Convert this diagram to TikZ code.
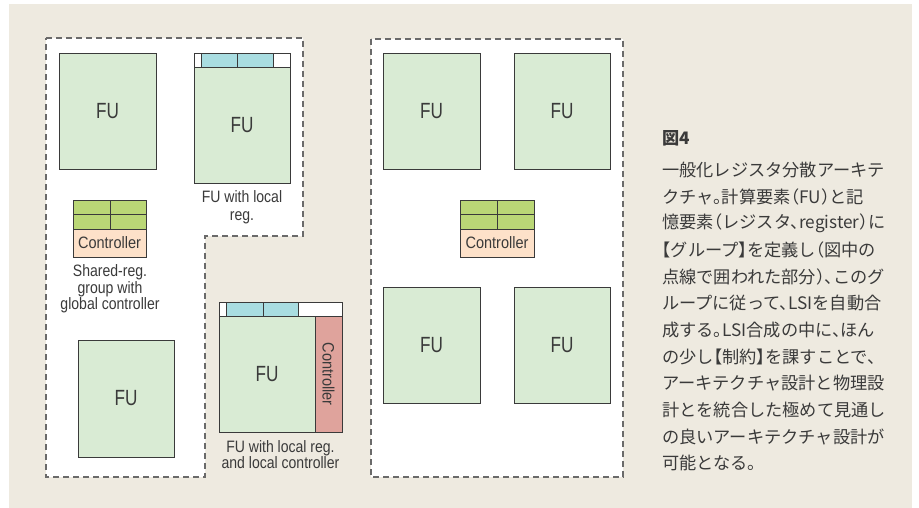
\documentclass[tikz,border=0pt]{standalone}
\usepackage{fontspec}
\setmainfont{Liberation Sans}[FakeStretch=0.85]
\newfontfamily\fufont{Liberation Sans}[FakeStretch=0.78]
\newfontfamily\ctlfont{Liberation Sans}[FakeStretch=0.88]
\newfontfamily\jp{Noto Sans CJK JP}[RawFeature=+halt]
\XeTeXlinebreaklocale "ja"
\XeTeXlinebreakskip=0pt plus 3pt
\definecolor{bgbeige}{HTML}{EEEAE0}
\definecolor{fugreen}{HTML}{D9EBD4}
\definecolor{regcyan}{HTML}{A9DDE1}
\definecolor{reggreen}{HTML}{BAD776}
\definecolor{ctlpeach}{HTML}{FDE1C9}
\definecolor{ctlpink}{HTML}{DFA39C}
\definecolor{ink}{HTML}{3A3A3A}
\definecolor{dashgray}{HTML}{6A6A6A}
\newcommand{\jline}[1]{\makebox[225pt][s]{#1}}
\tikzset{
  box/.style={draw=ink, line width=0.9pt, inner sep=0pt, outer sep=0pt, text=ink},
  fubox/.style={box, fill=fugreen, font=\fufont\fontsize{22}{24}\selectfont},
  cell/.style={box, fill=regcyan},
  blank/.style={box, fill=white},
  gcell/.style={box, fill=reggreen},
  ctl/.style={box, fill=ctlpeach, font=\ctlfont\fontsize{16.5}{18}\selectfont},
  ctlv/.style={box, fill=ctlpink, font=\ctlfont\fontsize{16.5}{18}\selectfont},
  group/.style={draw=dashgray, line width=1.1pt, dash pattern=on 6pt off 4pt, fill=white},
  lab/.style={text=ink, font=\fontsize{16.5}{16.5}\selectfont, align=center, inner sep=0pt},
  jtxt/.style={text=ink, anchor=west, inner sep=0pt, font=\jp\fontsize{17.2}{20}\selectfont},
}
\begin{document}
\begin{tikzpicture}[x=1pt,y=-1pt]
\useasboundingbox (0,0) rectangle (919,508);
\fill[bgbeige] (9,4) rectangle (912,508);

% left L-shaped group
\draw[group] (46,38) -- (303,38) -- (303,236) -- (205,236) -- (205,477) -- (46,477) -- cycle;
% right group
\draw[group] (371,39) rectangle (623,477);

% FU top-left
\node[fubox, minimum width=97pt, minimum height=116pt] (fu1) at (107.5,111) {FU};

% FU with local reg
\node[blank, minimum width=7pt, minimum height=14pt] (r2a) at (197.5,60) {};
\node[cell, minimum width=36pt, minimum height=14pt] (r2b) at (219,60) {};
\node[cell, minimum width=36pt, minimum height=14pt] (r2c) at (255,60) {};
\node[blank, minimum width=17pt, minimum height=14pt] (r2d) at (281.5,60) {};
\node[fubox, minimum width=96pt, minimum height=116pt] (fu2) at (242,125) {FU};
\node[lab] (lab2) at (242,207.5) {FU with local\\[1.5pt]reg.};

% shared reg group left
\node[gcell, minimum width=37pt, minimum height=14.5pt] (g1) at (91.5,207.25) {};
\node[gcell, minimum width=36pt, minimum height=14.5pt] (g2) at (128,207.25) {};
\node[gcell, minimum width=37pt, minimum height=14.5pt] (g3) at (91.5,221.75) {};
\node[gcell, minimum width=36pt, minimum height=14.5pt] (g4) at (128,221.75) {};
\node[ctl, minimum width=73pt, minimum height=28pt] (c1) at (109.5,243) {Controller};
\node[lab] (lab1) at (110,289) {Shared-reg.\\[0.2pt]group with\\[0.2pt]global controller};

% FU bottom-left
\node[fubox, minimum width=96pt, minimum height=117pt] (fu3) at (126,398.5) {FU};

% FU with local reg and local controller
\node[blank, minimum width=7pt, minimum height=14pt] (r4a) at (222.5,309) {};
\node[cell, minimum width=37pt, minimum height=14pt] (r4b) at (244.5,309) {};
\node[cell, minimum width=35pt, minimum height=14pt] (r4c) at (280.5,309) {};
\node[blank, minimum width=44pt, minimum height=14pt] (r4d) at (320,309) {};
\node[fubox, minimum width=96pt, minimum height=116pt] (fu4) at (267,374) {FU};
\node[ctlv, minimum width=27pt, minimum height=116pt] (c4) at (328.5,374) {\rotatebox{-90}{Controller}};
\node[lab] (lab4) at (280.5,454.5) {FU with local reg.\\[0.2pt]and local controller};

% right group contents
\node[fubox, minimum width=97pt, minimum height=116pt] (fu5) at (431.5,111) {FU};
\node[fubox, minimum width=96pt, minimum height=116pt] (fu6) at (562,111) {FU};
\node[fubox, minimum width=97pt, minimum height=116pt] (fu7) at (431.5,345) {FU};
\node[fubox, minimum width=96pt, minimum height=116pt] (fu8) at (562,345) {FU};
\node[gcell, minimum width=37pt, minimum height=14.5pt] (h1) at (478.5,207.25) {};
\node[gcell, minimum width=37pt, minimum height=14.5pt] (h2) at (515.5,207.25) {};
\node[gcell, minimum width=37pt, minimum height=14.5pt] (h3) at (478.5,221.75) {};
\node[gcell, minimum width=37pt, minimum height=14.5pt] (h4) at (515.5,221.75) {};
\node[ctl, minimum width=74pt, minimum height=28pt] (c5) at (497,243) {Controller};

% caption
\node[jtxt, font=\jp\bfseries\fontsize{17.2}{20}\selectfont] (t0) at (662,138) {図4};
\node[jtxt] (t1) at (662,170) {\jline{一般化レジスタ分散アーキテ}};
\node[jtxt] (t2) at (662,196.7) {\jline{クチャ。計算要素（FU）と記}};
\node[jtxt] (t3) at (662,223.3) {\jline{憶要素（レジスタ、register）に}};
\node[jtxt] (t4) at (662,250) {\jline{【グループ】を定義し（図中の}};
\node[jtxt] (t5) at (662,276.7) {\jline{点線で囲われた部分）、このグ}};
\node[jtxt] (t6) at (662,303.3) {\jline{ループに従って、LSIを自動合}};
\node[jtxt] (t7) at (662,330) {\jline{成する。LSI合成の中に、ほん}};
\node[jtxt] (t8) at (662,356.7) {\jline{の少し【制約】を課すことで、}};
\node[jtxt] (t9) at (662,383.3) {\jline{アーキテクチャ設計と物理設}};
\node[jtxt] (t10) at (662,410) {\jline{計とを統合した極めて見通し}};
\node[jtxt] (t11) at (662,436.7) {\jline{の良いアーキテクチャ設計が}};
\node[jtxt] (t12) at (662,463.3) {可能となる。};
\end{tikzpicture}
\end{document}
